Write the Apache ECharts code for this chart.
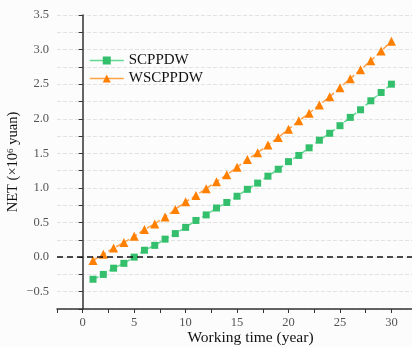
<!DOCTYPE html>
<html>
<head>
<meta charset="utf-8">
<script src="https://cdn.jsdelivr.net/npm/echarts@6/dist/echarts.min.js"></script>
<style>
  html, body { margin: 0; padding: 0; background: #fcfcfc; }
  #chart { width: 412px; height: 347px; }
</style>
</head>
<body>
<div id="chart"></div>
<script>
// working time (year)
var years = [1, 2, 3, 4, 5, 6, 7, 8, 9, 10, 11, 12, 13, 14, 15, 16, 17, 18, 19, 20, 21, 22, 23, 24, 25, 26, 27, 28, 29, 30];
// NET (x10^6 yuan)
var scppdw = [-0.32, -0.25, -0.16, -0.09, 0.0, 0.10, 0.17, 0.26, 0.34, 0.43, 0.53, 0.61, 0.71, 0.79, 0.88, 0.98, 1.07, 1.17, 1.27, 1.38, 1.47, 1.58, 1.69, 1.79, 1.90, 2.02, 2.13, 2.26, 2.38, 2.50];
var wscppdw = [-0.05, 0.04, 0.13, 0.21, 0.30, 0.40, 0.48, 0.58, 0.69, 0.80, 0.89, 0.99, 1.09, 1.19, 1.30, 1.41, 1.51, 1.62, 1.73, 1.85, 1.97, 2.08, 2.20, 2.32, 2.45, 2.58, 2.71, 2.84, 2.98, 3.12];

var seriesNames = ['SCPPDW', 'WSCPPDW'];

var serif = '"Liberation Serif", "Times New Roman", serif';
var green = '#33bf6b';
var greenLine = '#62d891';
var orange = '#ff7f00';
var orangeLine = '#ffa24a';

function pairs(xs, ys) {
  return xs.map(function (x, i) { return [x, ys[i]]; });
}

var chart = echarts.init(document.getElementById('chart'));

chart.setOption({
  animation: false,
  backgroundColor: '#fcfcfc',
  grid: { left: 57, right: 0, top: 15, bottom: 38, outerBoundsMode: 'none', containLabel: false },
  legend: {
    orient: 'vertical',
    left: 89,
    top: 53,
    padding: 0,
    itemWidth: 34,
    itemHeight: 10,
    itemGap: 3,
    textStyle: { fontFamily: serif, fontSize: 15, color: '#111' },
    lineStyle: { type: 'solid', width: 1.5 },
    data: seriesNames
  },
  xAxis: {
    type: 'value',
    min: -2.5,
    max: 32,
    interval: 2.5,
    name: 'Working time (year)',
    nameLocation: 'middle',
    nameGap: 21,
    nameMoveOverlap: false,
    nameTextStyle: { fontFamily: serif, fontSize: 15.5, color: '#111', padding: [0, 0, 0, 32] },
    axisLine: { onZero: false, lineStyle: { color: '#333', width: 1.5 } },
    axisTick: { inside: false, length: 4, lineStyle: { color: '#333' } },
    axisLabel: {
      margin: 7,
      fontFamily: serif,
      fontSize: 12.5,
      color: '#555',
      formatter: function (v) { return (v % 5 === 0 && v >= 0) ? String(v) : ''; }
    },
    splitLine: { show: false }
  },
  yAxis: {
    type: 'value',
    min: -0.75,
    max: 3.5,
    interval: 0.25,
    name: '{a|NET (×10}{s|6}{a| yuan)}',
    nameLocation: 'middle',
    nameGap: 36,
    nameMoveOverlap: false,
    nameTextStyle: {
      rich: {
        a: { fontFamily: serif, fontSize: 14.5, color: '#111' },
        s: { fontFamily: serif, fontSize: 9, color: '#111', verticalAlign: 'top', padding: [0, 0, 6, 0] }
      }
    },
    axisLine: { show: true, lineStyle: { color: '#333', width: 1.5 } },
    axisTick: { show: true, length: 4, lineStyle: { color: '#333' } },
    axisLabel: {
      margin: 8,
      fontFamily: serif,
      fontSize: 12.5,
      color: '#555',
      formatter: function (v) {
        if (Math.abs(v * 2 - Math.round(v * 2)) > 1e-6) return '';
        return v < 0 ? '\u2212' + (-v).toFixed(1) : v.toFixed(1);
      }
    },
    splitLine: { show: true, lineStyle: { color: '#e2e2e2', type: 'dashed', width: 1 } }
  },
  series: [
    {
      name: seriesNames[0],
      type: 'line',
      data: pairs(years, scppdw),
      symbol: 'rect',
      symbolSize: 7,
      itemStyle: { color: green },
      lineStyle: { color: greenLine, width: 1.5, type: 'dashed' },
      z: 3,
      markLine: {
        silent: true,
        symbol: ['none', 'none'],
        label: { show: false },
        lineStyle: { color: '#111', type: [6, 4], width: 1.5 },
        data: [{ yAxis: 0 }]
      }
    },
    {
      name: seriesNames[1],
      type: 'line',
      data: pairs(years, wscppdw),
      symbol: 'triangle',
      symbolSize: 9,
      itemStyle: { color: orange },
      lineStyle: { color: orangeLine, width: 1.5, type: 'dashed' },
      z: 3
    }
  ]
});
</script>
</body>
</html>
